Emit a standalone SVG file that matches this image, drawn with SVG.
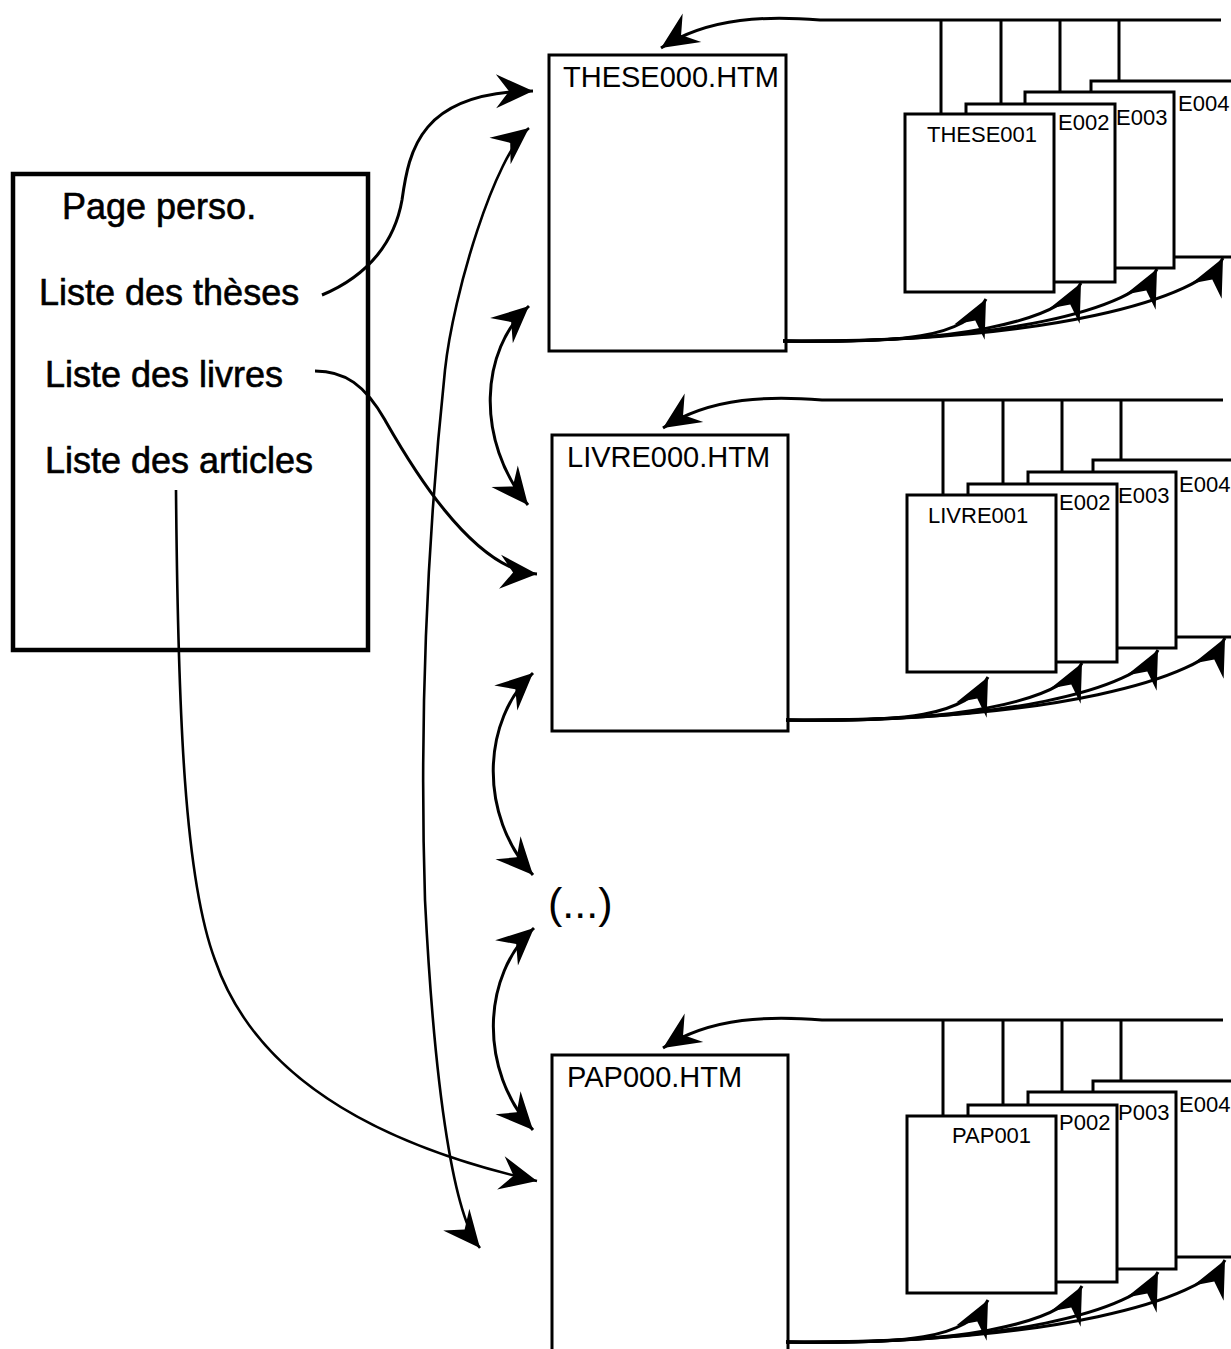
<svg xmlns="http://www.w3.org/2000/svg" width="1231" height="1349" viewBox="0 0 1231 1349">
<defs>
<style>
.box{fill:#fff;stroke:#000;stroke-width:3}
.page{fill:#fff;stroke:#000;stroke-width:4.5}
.big{font-family:"Liberation Sans",Arial,sans-serif;font-size:36px;fill:#000;stroke:#000;stroke-width:0.6}
.htm{font-family:"Liberation Sans",Arial,sans-serif;font-size:29px;fill:#000}
.lbl{font-family:"Liberation Sans",Arial,sans-serif;font-size:22px;fill:#000}
.c{fill:none;stroke:#000;stroke-width:3}
.t{fill:none;stroke:#000;stroke-width:2.6}
</style>
<marker id="ah" markerUnits="userSpaceOnUse" viewBox="-40 -20 42 40" markerWidth="42" markerHeight="40" refX="0" refY="0" orient="auto-start-reverse">
<path d="M0,0 L-37,-17 L-24,0 L-37,17 Z" fill="#000"/>
</marker>
</defs>
<rect width="1231" height="1349" fill="#fff"/>

<g id="page-perso">
<rect class="page" x="13" y="174" width="355" height="476"/>
<text class="big" x="62" y="219">Page perso.</text>
<text class="big" x="39" y="305">Liste des thèses</text>
<text class="big" x="45" y="387">Liste des livres</text>
<text class="big" x="45" y="473">Liste des articles</text>
</g>

<g id="these000">
<rect class="box" x="549" y="55" width="237" height="296"/>
<text class="htm" x="563" y="87">THESE000.HTM</text>
</g>
<g id="livre000">
<rect class="box" x="552" y="435" width="236" height="296"/>
<text class="htm" x="567" y="467">LIVRE000.HTM</text>
</g>
<g id="ellipsis">
<text class="big" x="548" y="918" style="font-size:43px;stroke-width:0">(...)</text>
</g>
<g id="pap000">
<rect class="box" x="552" y="1055" width="236" height="310"/>
<text class="htm" x="567" y="1087">PAP000.HTM</text>
</g>

<g id="these004"><rect class="box" x="1091" y="81" width="160" height="176"/><text class="lbl" x="1178" y="111">E004</text></g>
<g id="these003"><rect class="box" x="1025" y="92" width="149" height="176"/><text class="lbl" x="1116" y="125">E003</text></g>
<g id="these002"><rect class="box" x="966" y="104" width="149" height="178"/><text class="lbl" x="1058" y="130">E002</text></g>
<g id="these001"><rect class="box" x="905" y="114" width="149" height="178"/><text class="lbl" x="927" y="142">THESE001</text></g>

<g id="livre004"><rect class="box" x="1093" y="460" width="160" height="177"/><text class="lbl" x="1179" y="492">E004</text></g>
<g id="livre003"><rect class="box" x="1028" y="472" width="148" height="176"/><text class="lbl" x="1118" y="503">E003</text></g>
<g id="livre002"><rect class="box" x="968" y="484" width="149" height="178"/><text class="lbl" x="1059" y="510">E002</text></g>
<g id="livre001"><rect class="box" x="907" y="495" width="149" height="177"/><text class="lbl" x="928" y="523">LIVRE001</text></g>

<g id="pap004"><rect class="box" x="1093" y="1081" width="160" height="176"/><text class="lbl" x="1179" y="1112">E004</text></g>
<g id="pap003"><rect class="box" x="1028" y="1092" width="148" height="177"/><text class="lbl" x="1118" y="1120">P003</text></g>
<g id="pap002"><rect class="box" x="968" y="1105" width="149" height="177"/><text class="lbl" x="1059" y="1130">P002</text></g>
<g id="pap001"><rect class="box" x="907" y="1116" width="149" height="177"/><text class="lbl" x="952" y="1143">PAP001</text></g>

<g id="connectors">
<path class="c" d="M941,20 V114 M1001,20 V104 M1060,20 V92 M1119,20 V81"/>
<path class="c" d="M943,400 V495 M1003,400 V484 M1062,400 V472 M1121,400 V460"/>
<path class="c" d="M943,1020 V1116 M1003,1020 V1105 M1062,1020 V1092 M1121,1020 V1081"/>

<path class="c" marker-end="url(#ah)" d="M1221,20 L820,20 C770,16 710,16 661,48"/>
<path class="c" marker-end="url(#ah)" d="M1223,400 L822,400 C772,396 712,396 663,428"/>
<path class="c" marker-end="url(#ah)" d="M1223,1020 L822,1020 C772,1016 712,1016 663,1048"/>

<path class="c" marker-end="url(#ah)" d="M783,341 C900,343 966,339 986,299"/>
<path class="c" marker-end="url(#ah)" d="M783,341 C950,344 1061,323 1081,283"/>
<path class="c" marker-end="url(#ah)" d="M783,341 C1000,344 1137,309 1157,269"/>
<path class="c" marker-end="url(#ah)" d="M783,341 C1050,343 1203,298 1223,258"/>

<path class="c" marker-end="url(#ah)" d="M786,720 C903,722 968,717 988,677"/>
<path class="c" marker-end="url(#ah)" d="M786,720 C952,723 1062,703 1082,663"/>
<path class="c" marker-end="url(#ah)" d="M786,720 C1002,723 1138,690 1158,650"/>
<path class="c" marker-end="url(#ah)" d="M786,720 C1052,722 1205,678 1225,638"/>

<path class="c" marker-end="url(#ah)" d="M786,1342 C903,1344 968,1340 988,1300"/>
<path class="c" marker-end="url(#ah)" d="M786,1342 C952,1345 1062,1326 1082,1286"/>
<path class="c" marker-end="url(#ah)" d="M786,1342 C1002,1345 1138,1312 1158,1272"/>
<path class="c" marker-end="url(#ah)" d="M786,1342 C1052,1344 1205,1300 1225,1260"/>

<path class="c" marker-start="url(#ah)" marker-end="url(#ah)" d="M529,306 C480,350 475,440 528,505"/>
<path class="c" marker-start="url(#ah)" marker-end="url(#ah)" d="M533,673 C482,720 478,815 533,875"/>
<path class="c" marker-start="url(#ah)" marker-end="url(#ah)" d="M534,928 C482,975 478,1070 533,1130"/>

<path class="t" marker-start="url(#ah)" marker-end="url(#ah)" d="M480,1248 C455,1218 435,1100 425,900 C420,740 425,560 445,370 C453,294 495,155 529,128"/>

<path class="c" marker-end="url(#ah)" d="M322,295 C370,275 395,240 402,200 C409,150 420,92 533,91"/>
<path class="c" marker-end="url(#ah)" d="M315,371 C345,371 365,385 385,420 C405,455 470,570 537,574"/>
<path class="t" marker-end="url(#ah)" d="M176,490 C178,720 185,880 215,960 C260,1090 400,1150 537,1181"/>
</g>
</svg>
